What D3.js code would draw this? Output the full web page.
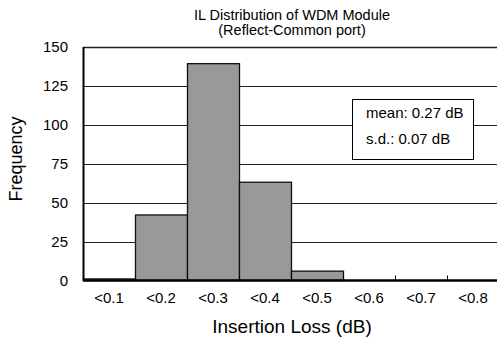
<!DOCTYPE html>
<html>
<head>
<meta charset="utf-8">
<script src="https://cdn.jsdelivr.net/npm/d3@7"></script>
<style>
  body { margin: 0; background: #fff; }
  svg { font-family: "Liberation Sans", Arial, sans-serif; }
</style>
</head>
<body>
<div id="chart"></div>
<script>
'use strict';

var categories = ["<0.1", "<0.2", "<0.3", "<0.4", "<0.5", "<0.6", "<0.7", "<0.8"];
var counts = [1, 42, 139, 63, 6, 0, 0, 0];
var yTicks = [0, 25, 50, 75, 100, 125, 150];
var titleLines = ["IL Distribution of WDM Module", "(Reflect-Common port)"];
var statsLines = ["mean: 0.27 dB", "s.d.: 0.07 dB"];

var W = 497, H = 340;
var plotLeft = 83, plotTop = 46.5, plotBottom = 280.5, plotRight = 499;
var FONT = "'Liberation Sans', Arial, sans-serif";

var svg = d3.select("#chart")
	.append("svg")
	.attr("width", W)
	.attr("height", H)
	.style("font-family", FONT);

var x = d3.scaleBand()
	.domain(categories)
	.range([plotLeft, plotRight])
	.paddingInner(0)
	.paddingOuter(0);

var y = d3.scaleLinear()
	.domain([0, 150])
	.range([plotBottom, plotTop]);

// gridlines
svg.append("g")
	.selectAll("line")
	.data(yTicks.filter(function(d) { return d > 0; }))
	.enter()
	.append("line")
	.attr("x1", plotLeft)
	.attr("x2", plotRight)
	.attr("y1", function(d) { return Math.round(y(d)) + 0.5; })
	.attr("y2", function(d) { return Math.round(y(d)) + 0.5; })
	.attr("stroke", "#222")
	.attr("stroke-width", function(d) { return d == 150 ? 1.5 : 1; });

// bars
svg.append("g")
	.selectAll("rect")
	.data(counts)
	.enter()
	.append("rect")
	.attr("x", function(d, i) { return x(categories[i]) + 0.5; })
	.attr("y", function(d) { return y(d); })
	.attr("width", x.bandwidth())
	.attr("height", function(d) { return plotBottom - y(d); })
	.attr("fill", "#999999")
	.attr("stroke", "#111")
	.attr("stroke-width", 1.3);

// y axis
var yAxis = svg.append("g")
	.attr("transform", "translate(" + plotLeft + ",0)")
	.call(d3.axisLeft(y).tickValues(yTicks).tickSize(0).tickPadding(15));
yAxis.attr("font-family", null).attr("font-size", null);
yAxis.select(".domain").attr("stroke", "#000").attr("stroke-width", 2);
yAxis.selectAll("text")
	.style("font-size", "15px")
	.style("font-family", FONT)
	.attr("fill", "#000");

// x axis: ticks between categories, pointing inward
var xAxis = svg.append("g")
	.attr("transform", "translate(0," + plotBottom + ")");
xAxis.append("line")
	.attr("x1", plotLeft)
	.attr("x2", plotRight)
	.attr("stroke", "#000")
	.attr("stroke-width", 2.5);
xAxis.selectAll(".tk")
	.data(categories.slice(1))
	.enter()
	.append("line")
	.attr("class", "tk")
	.attr("x1", function(d) { return x(d) + 0.5; })
	.attr("x2", function(d) { return x(d) + 0.5; })
	.attr("y1", 0)
	.attr("y2", -5)
	.attr("stroke", "#000");
xAxis.selectAll("text")
	.data(categories)
	.enter()
	.append("text")
	.attr("x", function(d) { return x(d) + x.bandwidth() / 2; })
	.attr("y", 22.5)
	.attr("text-anchor", "middle")
	.style("font-size", "15px")
	.text(function(d) { return d; });

// title
svg.append("g")
	.selectAll("text")
	.data(titleLines)
	.enter()
	.append("text")
	.attr("x", 292)
	.attr("y", function(d, i) { return 19.5 + i * 15.5; })
	.attr("text-anchor", "middle")
	.style("font-size", "14.5px")
	.text(function(d) { return d; });

// axis titles
svg.append("text")
	.attr("x", 292)
	.attr("y", 333)
	.attr("text-anchor", "middle")
	.style("font-size", "19px")
	.text("Insertion Loss (dB)");

svg.append("text")
	.attr("transform", "translate(21.5,159) rotate(-90)")
	.attr("text-anchor", "middle")
	.style("font-size", "18px")
	.text("Frequency");

// stats box
svg.append("rect")
	.attr("x", 352.5)
	.attr("y", 99.5)
	.attr("width", 121)
	.attr("height", 60)
	.attr("fill", "#fff")
	.attr("stroke", "#000")
	.attr("stroke-width", 1);

svg.append("g")
	.selectAll("text")
	.data(statsLines)
	.enter()
	.append("text")
	.attr("x", 366)
	.attr("y", function(d, i) { return 118 + i * 25.5; })
	.style("font-size", "15px")
	.text(function(d) { return d; });
</script>
</body>
</html>
